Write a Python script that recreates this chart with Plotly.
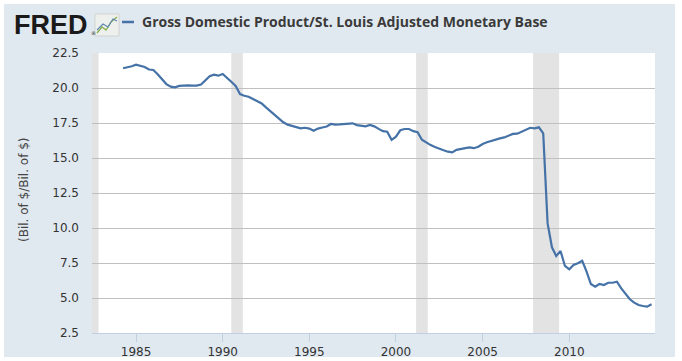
import plotly.graph_objects as go

# Quarterly ratio: Gross Domestic Product / St. Louis Adjusted Monetary Base
start_year, start_q = 1984, 2
ratio = [
    21.41, 21.47, 21.55,                      # 1984 Q2-Q4
    21.66, 21.58, 21.50, 21.32,               # 1985
    21.29, 20.98, 20.65, 20.28,               # 1986
    20.10, 20.05, 20.15, 20.19,               # 1987
    20.19, 20.17, 20.17, 20.25,               # 1988
    20.55, 20.85, 20.95, 20.88,               # 1989
    21.00, 20.75, 20.45, 20.15,               # 1990
    19.57, 19.45, 19.38, 19.22,               # 1991
    19.08, 18.90, 18.62, 18.35,               # 1992
    18.12, 17.85, 17.55, 17.38,               # 1993
    17.29, 17.25, 17.12, 17.16,               # 1994
    17.10, 16.95, 17.10, 17.18,               # 1995
    17.25, 17.43, 17.38, 17.40,               # 1996
    17.41, 17.44, 17.48, 17.35,               # 1997
    17.30, 17.26, 17.36, 17.26,               # 1998
    17.08, 16.92, 16.88, 16.30,               # 1999
    16.52, 16.98, 17.07, 17.07,               # 2000
    16.92, 16.85, 16.30, 16.08,               # 2001
    15.92, 15.78, 15.65, 15.55,               # 2002
    15.45, 15.40, 15.58, 15.62,               # 2003
    15.70, 15.76, 15.70, 15.80,               # 2004
    16.00, 16.12, 16.22, 16.33,               # 2005
    16.40, 16.47, 16.60, 16.72,               # 2006
    16.74, 16.88, 17.00, 17.16,               # 2007
    17.12, 17.19, 16.76, 10.33,               # 2008
    8.62, 8.00, 8.36, 7.29,                   # 2009
    7.05, 7.36, 7.48, 7.66,                   # 2010
    6.88, 6.00, 5.81, 6.00,                   # 2011
    5.93, 6.09, 6.09, 6.16,                   # 2012
    5.69, 5.29, 4.91, 4.67,                   # 2013
    4.50, 4.43, 4.38, 4.55,                   # 2014
]

dates = []
y, q = start_year, start_q
for _ in ratio:
    dates.append(f"{y}-{(q - 1) * 3 + 1:02d}-01")
    q += 1
    if q > 4:
        q = 1
        y += 1

recession_starts = ["1981-07-01", "1990-07-01", "2001-03-01", "2007-12-01"]
recession_ends = ["1982-11-01", "1991-03-01", "2001-11-01", "2009-06-01"]

series_name = "Gross Domestic Product/St. Louis Adjusted Monetary Base"
y_title = "(Bil. of $/Bil. of $)"
x_ticks = ["1985-01-01", "1990-01-01", "1995-01-01", "2000-01-01", "2005-01-01", "2010-01-01"]
x_tick_labels = ["1985", "1990", "1995", "2000", "2005", "2010"]

LINE = "#4572a7"
BG = "#e1e9f0"

fig = go.Figure()
fig.add_trace(go.Scatter(x=dates, y=ratio, mode="lines",
                         line=dict(color=LINE, width=2.2), name=series_name,
                         showlegend=False, hoverinfo="skip"))

shapes = []
for s, e in zip(recession_starts, recession_ends):
    shapes.append(dict(type="rect", xref="x", yref="paper", x0=s, x1=e, y0=0, y1=1,
                       fillcolor="#e3e3e3", line=dict(width=0), layer="below"))

L, W, B, H = 92, 563, 333, 280
def px(v):
    return (v - L) / W
def py(v):
    return (B - v) / H

# legend line sample
shapes.append(dict(type="line", xref="paper", yref="paper", x0=px(122), x1=px(134),
                   y0=py(22), y1=py(22), line=dict(color=LINE, width=2.5)))
# FRED logo icon
shapes.append(dict(type="rect", xref="paper", yref="paper", x0=px(95), x1=px(119),
                   y0=py(36), y1=py(14), fillcolor="#eef0ee", line=dict(color="#d0d4d0", width=1)))
shapes.append(dict(type="path", xref="paper", yref="paper",
                   path=f"M {px(97)} {py(33)} L {px(102)} {py(27)} L {px(106)} {py(30)} L {px(111)} {py(22)} L {px(117)} {py(17)}",
                   line=dict(color="#8ab04a", width=1.3)))
shapes.append(dict(type="path", xref="paper", yref="paper",
                   path=f"M {px(97)} {py(30)} L {px(103)} {py(24)} L {px(108)} {py(27)} L {px(113)} {py(19)} L {px(117)} {py(21)}",
                   line=dict(color="#5d86b5", width=1.1)))
# white outer border strips
for x0, x1, y0, y1 in [(0, 4, 0, 361), (675, 682, 0, 361), (0, 682, 0, 4), (0, 682, 357, 361)]:
    shapes.append(dict(type="rect", xref="paper", yref="paper", x0=px(x0), x1=px(x1),
                       y0=py(y1), y1=py(y0), fillcolor="white", line=dict(width=0), layer="above"))

annotations = [
    dict(text="<b>FRED</b>", xref="paper", yref="paper", x=px(12), y=py(25),
         xanchor="left", yanchor="middle", showarrow=False,
         font=dict(family="Liberation Sans", size=27, color="#1a1a1a")),
    dict(text="®", xref="paper", yref="paper", x=px(89), y=py(33),
         xanchor="left", yanchor="middle", showarrow=False,
         font=dict(family="DejaVu Sans", size=5, color="#1a1a1a")),
    dict(text=f"<b>{series_name}</b>", xref="paper", yref="paper", x=px(140), y=py(22),
         xanchor="left", yanchor="middle", showarrow=False,
         font=dict(family="Open Sans", size=14, color="#3a3a3a")),
    dict(text=y_title, xref="paper", yref="paper", x=px(24), y=py(190),
         xanchor="center", yanchor="middle", textangle=-90, showarrow=False,
         font=dict(family="DejaVu Sans", size=12, color="#444444")),
]

fig.update_layout(
    width=682, height=361,
    margin=dict(l=L, r=682 - L - W, t=B - H, b=361 - B, autoexpand=False),
    paper_bgcolor=BG, plot_bgcolor="white",
    shapes=shapes, annotations=annotations,
    font=dict(family="DejaVu Sans", size=12, color="#333333"),
    hovermode=False,
    xaxis=dict(type="date", range=["1982-06-17", "2014-12-13"],
               tickvals=x_ticks, ticktext=x_tick_labels,
               showgrid=False, zeroline=False, automargin=False,
               showline=True, linecolor="#c0d0e0", linewidth=1,
               ticks="outside", ticklen=8, tickcolor="#c0d0e0", tickwidth=1,
               tickfont=dict(family="DejaVu Sans", size=12, color="#333333")),
    yaxis=dict(range=[2.5, 22.5], dtick=2.5, tick0=2.5, tickformat=".1f",
               showgrid=True, gridcolor="#c0c0c0", gridwidth=1,
               zeroline=False, showline=False, ticks="", automargin=False,
               ticklabelstandoff=12,
               tickfont=dict(family="DejaVu Sans", size=12, color="#333333")),
)

fig.write_html("out.html", config={"displayModeBar": False},
               post_script="document.body.style.margin='0';document.body.style.overflow='hidden';")
